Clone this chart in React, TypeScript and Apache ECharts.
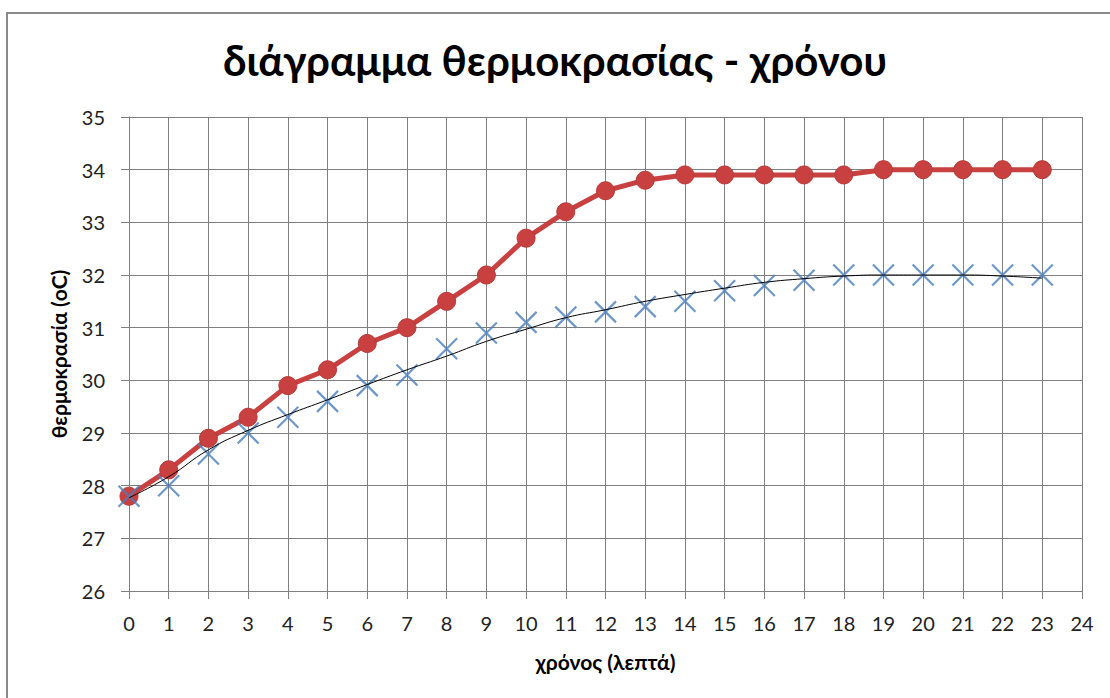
import React, { useEffect, useRef } from "react";
import * as echarts from "echarts";

const minutes = [0,1,2,3,4,5,6,7,8,9,10,11,12,13,14,15,16,17,18,19,20,21,22,23];
const redTemps = [27.8,28.3,28.9,29.3,29.9,30.2,30.7,31.0,31.5,32.0,32.7,33.2,33.6,33.8,33.9,33.9,33.9,33.9,33.9,34.0,34.0,34.0,34.0,34.0];
const blueTemps = [27.8,28.0,28.6,29.0,29.3,29.6,29.9,30.1,30.6,30.9,31.1,31.2,31.3,31.4,31.5,31.7,31.8,31.9,32.0,32.0,32.0,32.0,32.0,32.0];
const trendTemps = [27.77,28.17,28.68,29.05,29.35,29.63,29.92,30.2,30.46,30.74,30.97,31.19,31.34,31.5,31.63,31.75,31.86,31.93,31.98,32.0,32.0,32.0,31.98,31.94];

const titleText = "διάγραμμα θερμοκρασίας - χρόνου";
const yName = "θερμοκρασία (oC)";
const xName = "χρόνος (λεπτά)";

const FONT = "Lato, 'Open Sans', sans-serif";

export default function App() {
  const ref = useRef<HTMLDivElement>(null);
  useEffect(() => {
    document.body.style.margin = "0";
    const chart = echarts.init(ref.current!, null, { renderer: "svg" });
    const pair = (ys: number[]) => minutes.map((m, i) => [m, ys[i]]);
    chart.setOption({
      animation: false,
      backgroundColor: "#ffffff",
      title: {
        text: titleText,
        left: "center",
        top: 34,
        textStyle: { fontFamily: FONT, fontWeight: "bold", fontSize: 42, color: "#000" },
      },
      graphic: [
        {
          type: "rect",
          shape: { x: 7, y: 13, width: 1200, height: 800 },
          style: { fill: "none", stroke: "#8a8a8a", lineWidth: 2 },
          silent: true,
        },
      ],
      grid: { left: 129, right: 28, top: 117, bottom: 107 },
      xAxis: {
        type: "value",
        min: 0,
        max: 24,
        interval: 1,
        name: xName,
        nameLocation: "middle",
        nameGap: 60,
        nameTextStyle: { fontFamily: FONT, fontWeight: "bold", fontSize: 21, color: "#000" },
        axisLine: { show: true, lineStyle: { color: "#7f7f7f", width: 1 } },
        axisTick: { show: true, length: 8, lineStyle: { color: "#7f7f7f" } },
        axisLabel: { margin: 22, fontFamily: FONT, fontSize: 20, color: "#222" },
        splitLine: { show: true, lineStyle: { color: "#7f7f7f", width: 1 } },
      },
      yAxis: {
        type: "value",
        min: 26,
        max: 35,
        interval: 1,
        name: yName,
        nameLocation: "middle",
        nameGap: 60,
        nameTextStyle: { fontFamily: FONT, fontWeight: "bold", fontSize: 21, color: "#000" },
        axisLine: { show: true, lineStyle: { color: "#7f7f7f", width: 1 } },
        axisTick: { show: true, length: 8, lineStyle: { color: "#7f7f7f" } },
        axisLabel: { margin: 24, fontFamily: FONT, fontSize: 20, color: "#222" },
        splitLine: { show: true, lineStyle: { color: "#7f7f7f", width: 1 } },
      },
      series: [
        {
          type: "line",
          data: pair(redTemps),
          symbol: "circle",
          symbolSize: 18,
          lineStyle: { color: "#c8403f", width: 5 },
          itemStyle: { color: "#c8403f", borderColor: "#b83a39", borderWidth: 1 },
          z: 2,
        },
        {
          type: "scatter",
          data: pair(blueTemps),
          symbol: "path://M0,0L20,20M20,0L0,20",
          symbolSize: 21,
          itemStyle: { color: "none", borderColor: "#4a7ebb", borderWidth: 2.2 },
          z: 3,
        },
        {
          type: "line",
          data: pair(trendTemps),
          smooth: true,
          symbol: "none",
          lineStyle: { color: "#000", width: 1 },
          z: 4,
        },
      ],
    });
    return () => chart.dispose();
  }, []);
  return <div ref={ref} style={{ width: 1110, height: 698 }} />;
}
